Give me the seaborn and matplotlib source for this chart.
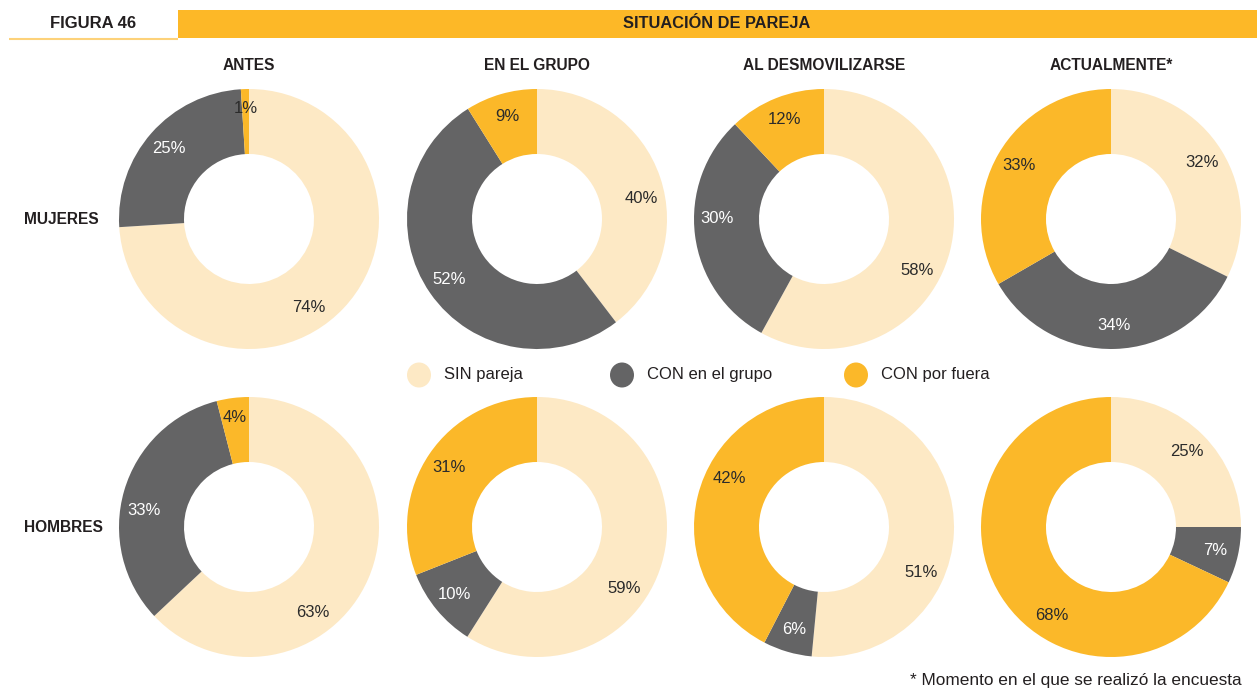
import matplotlib
matplotlib.use("Agg")
import matplotlib.pyplot as plt
import seaborn as sns
import numpy as np

# Survey data: share of each partner situation per period
periods = ["ANTES", "EN EL GRUPO", "AL DESMOVILIZARSE", "ACTUALMENTE*"]
groups = ["MUJERES", "HOMBRES"]
categories = ["SIN pareja", "CON en el grupo", "CON por fuera"]

mujeres_sin = [74, 40, 58, 32]
mujeres_grupo = [25, 52, 30, 34]
mujeres_fuera = [1, 9, 12, 33]

hombres_sin = [63, 59, 51, 25]
hombres_grupo = [33, 10, 6, 7]
hombres_fuera = [4, 31, 42, 68]

sns.set_theme(style="white")
palette = sns.color_palette(["#FDE9C5", "#646465", "#FBB829"])
label_colors = ["#2B2B2B", "#FFFFFF", "#2B2B2B"]
plt.rcParams["font.family"] = ["Liberation Sans", "DejaVu Sans"]

W, H = 1257, 700
fig = plt.figure(figsize=(W / 100, H / 100), dpi=100)
fig.patch.set_facecolor("white")


def fx(px):
    return px / W


def fy(py):
    return 1 - py / H


dark = "#231F20"
font = ["Liberation Sans", "DejaVu Sans"]

# Label placement tweaks for the wide slices (degrees clockwise from 12 o'clock)
label_angle_override = {
    ("MUJERES", 0, 0): 146, ("MUJERES", 1, 0): 79, ("MUJERES", 2, 0): 119,
    ("MUJERES", 2, 1): 270,
    ("HOMBRES", 0, 0): 143, ("HOMBRES", 0, 1): 279, ("HOMBRES", 1, 0): 125,
    ("HOMBRES", 2, 0): 115, ("HOMBRES", 2, 2): 297, ("HOMBRES", 3, 2): 214,
}

# Background layer for header, titles and legend (pixel coordinates)
bg = fig.add_axes([0, 0, 1, 1], zorder=-1)
bg.set_xlim(0, W)
bg.set_ylim(H, 0)
bg.axis("off")
bg.add_patch(plt.Rectangle((178, 10), W - 178, 28, color="#FDB827", lw=0))
bg.plot([9, 178], [38.5, 38.5], color="#FDD27A", lw=1.5, solid_capstyle="butt")
bg.text(93, 24, "FIGURA 46", ha="center", va="center", fontsize=12,
        fontweight="bold", color=dark, family=font)
bg.text(717, 24, "SITUACIÓN DE PAREJA", ha="center", va="center", fontsize=11.8,
        fontweight="bold", color=dark, family=font)

col_x = [249, 537, 824, 1111]
row_y = [219, 527]
radius_px = 130

for x, title in zip(col_x, periods):
    bg.text(x, 65, title, ha="center", va="center", fontsize=11.2,
            fontweight="bold", color=dark, family=font)

for y, g in zip(row_y, groups):
    bg.text(24, y, g, ha="left", va="center", fontsize=11.2,
            fontweight="bold", color=dark, family=font)

data = {
    "MUJERES": [mujeres_sin, mujeres_grupo, mujeres_fuera],
    "HOMBRES": [hombres_sin, hombres_grupo, hombres_fuera],
}

for r, g in enumerate(groups):
    sin, grupo, fuera = data[g]
    for c in range(len(periods)):
        vals = [sin[c], grupo[c], fuera[c]]
        cx, cy = col_x[c], row_y[r]
        ax = fig.add_axes([fx(cx - radius_px), fy(cy + radius_px),
                           2 * radius_px / W, 2 * radius_px / H])
        ax.pie(vals, colors=palette, startangle=90, counterclock=False,
               radius=1, wedgeprops=dict(width=0.5, linewidth=0))
        ax.set_xlim(-1, 1)
        ax.set_ylim(-1, 1)
        ax.set_aspect("equal")
        ax.axis("off")
        total = sum(vals)
        cum = 0
        for k, (v, lc) in enumerate(zip(vals, label_colors)):
            deg = 360 * (cum + v / 2) / total
            deg = label_angle_override.get((g, c, k), deg)
            ang = np.deg2rad(90 - deg)
            rr = 0.82 if v >= 5 else 0.85
            ax.text(rr * np.cos(ang), rr * np.sin(ang), f"{v}%", ha="center",
                    va="center", fontsize=12, color=lc, family=font)
            cum += v

# Legend
leg_y = 375
for mx, lab, col in zip([419, 622, 856], categories, palette):
    bg.add_patch(matplotlib.patches.Ellipse((mx, leg_y), 24, 25, color=col, lw=0))
    bg.text(mx + 25, leg_y, lab, ha="left", va="center", fontsize=12,
            color=dark, family=font)

bg.text(1242, 681, "* Momento en el que se realizó la encuesta", ha="right",
        va="center", fontsize=12.4, color=dark, family=font)

fig.savefig("out.png", dpi=100, facecolor="white")
